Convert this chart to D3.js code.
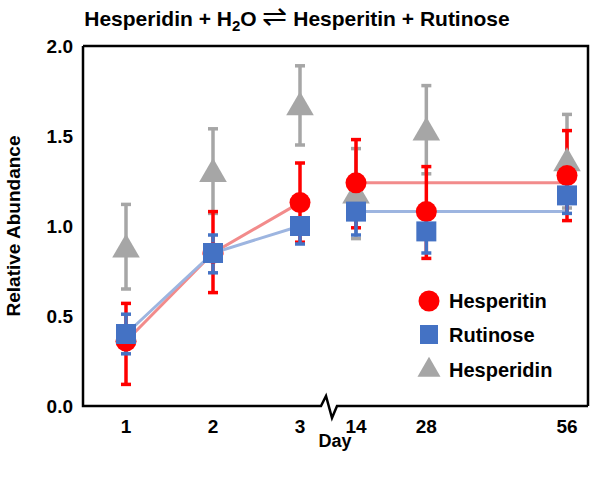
<!DOCTYPE html><html><head><meta charset="utf-8"><script src="https://cdn.jsdelivr.net/npm/d3@7"></script>
<style>body{margin:0;background:#fff}svg{font-family:Arial,"Liberation Sans",sans-serif}</style></head><body><svg id="c" width="595" height="478"></svg><script>
const days=[1,2,3,14,28,56];
const dayLabels=["1","2","3","14","28","56"];
const hesperitin=[0.36,0.85,1.13,1.24,1.08,1.28];
const hesperitinLo=[0.12,0.63,0.91,0.99,0.82,1.03];
const hesperitinHi=[0.57,1.08,1.35,1.48,1.33,1.53];
const rutinose=[0.40,0.85,1.00,1.08,0.97,1.17];
const rutinoseLo=[0.29,0.74,0.90,0.95,0.85,1.07];
const rutinoseHi=[0.51,0.95,1.04,1.19,1.08,1.27];
const hesperidin=[0.88,1.30,1.67,1.18,1.53,1.36];
const hesperidinLo=[0.65,1.07,1.45,0.93,1.29,1.10];
const hesperidinHi=[1.12,1.54,1.89,1.43,1.78,1.62];
const plateau={hesperitin:1.24,rutinose:1.08};
const yTicks=[0,0.5,1.0,1.5,2.0];

const svg=d3.select("#c");
const L=83,R=588,T=46,B=406;
const y=d3.scaleLinear().domain([0,2]).range([B,T]);
const xa=d3.scaleLinear().domain([1,3]).range([126,300]);
const xb=d3.scaleLinear().domain([14,56]).range([356,567]);
const x=d=>d<=3?xa(d):xb(d);

svg.append("path").attr("d",`M${L},${T}H${R}V${B}`).attr("fill","none").attr("stroke","#000").attr("stroke-width",2.5);
svg.append("path").attr("d",`M${L},${T}V${B}H321l5,-10l6,22l5,-12H${R}`).attr("fill","none").attr("stroke","#000").attr("stroke-width",2.5);

svg.append("g").selectAll("text").data(yTicks).join("text").attr("x",L-10).attr("y",d=>y(d)+7)
 .attr("text-anchor","end").attr("font-size",19).attr("font-weight","bold").text(d=>d.toFixed(1));
svg.append("g").selectAll("text").data(days).join("text").attr("x",d=>x(d)).attr("y",433)
 .attr("text-anchor","middle").attr("font-size",19).attr("font-weight","bold").text((d,i)=>dayLabels[i]);
svg.append("text").attr("x",335).attr("y",445).attr("text-anchor","middle").attr("font-size",18).attr("font-weight","bold").attr("dy",2).text("Day");
svg.append("text").attr("transform",`translate(20,${(T+B)/2}) rotate(-90)`).attr("text-anchor","middle").attr("font-size",19).attr("font-weight","bold").text("Relative Abundance");
const t=svg.append("text").attr("x",297).attr("y",26).attr("text-anchor","middle").attr("font-size",21).attr("font-weight","bold");
t.append("tspan").text("Hesperidin + H");t.append("tspan").attr("font-size",15).attr("dy",5).text("2");
t.append("tspan").attr("dy",-5).text("O ");t.append("tspan").attr("font-size",30).attr("font-weight","normal").text("\u21CC");t.append("tspan").text(" Hesperitin + Rutinose");

const line=d3.line().x((d,i)=>x(days[i])).y(d=>y(d));
svg.append("path").attr("d",line(hesperitin.slice(0,3))).attr("fill","none").attr("stroke","#f28b8b").attr("stroke-width",3);
svg.append("path").attr("d",line(rutinose.slice(0,3))).attr("fill","none").attr("stroke","#9db5e0").attr("stroke-width",3);
svg.append("line").attr("x1",x(14)).attr("x2",x(56)).attr("y1",y(plateau.hesperitin)).attr("y2",y(plateau.hesperitin)).attr("stroke","#f28b8b").attr("stroke-width",3);
svg.append("line").attr("x1",x(14)).attr("x2",x(56)).attr("y1",y(plateau.rutinose)).attr("y2",y(plateau.rutinose)).attr("stroke","#9db5e0").attr("stroke-width",3);

function err(lo,hi,col){
  const g=svg.append("g").attr("stroke",col).attr("stroke-width",3.5);
  days.forEach((d,i)=>{const cx=x(d);
    g.append("line").attr("x1",cx).attr("x2",cx).attr("y1",y(lo[i])).attr("y2",y(hi[i]));
    [lo[i],hi[i]].forEach(v=>g.append("line").attr("x1",cx-5).attr("x2",cx+5).attr("y1",y(v)).attr("y2",y(v)));});
}
const tri=d3.symbol().type(d3.symbolTriangle).size(330);
err(hesperidinLo,hesperidinHi,"#a6a6a6");
err(hesperitinLo,hesperitinHi,"#ff0000");
err(rutinoseLo,rutinoseHi,"#4472c4");
svg.append("g").selectAll("path").data(hesperidin).join("path").attr("d",tri).attr("fill","#a6a6a6")
 .attr("transform",(d,i)=>`translate(${x(days[i])},${y(d)+2})`);
svg.append("g").selectAll("circle").data(hesperitin).join("circle").attr("cx",(d,i)=>x(days[i])).attr("cy",d=>y(d)).attr("r",10.5).attr("fill","#ff0000");
svg.append("g").selectAll("rect").data(rutinose).join("rect").attr("x",(d,i)=>x(days[i])-10).attr("y",d=>y(d)-10).attr("width",20).attr("height",20).attr("fill","#4472c4");

const lg=svg.append("g");
lg.append("circle").attr("cx",429).attr("cy",301).attr("r",10.5).attr("fill","#ff0000");
lg.append("rect").attr("x",420).attr("y",325).attr("width",18).attr("height",19).attr("fill","#4472c4");
lg.append("path").attr("d",d3.symbol().type(d3.symbolTriangle).size(230)).attr("transform","translate(429,370)").attr("fill","#a6a6a6");
[["Hesperitin",308],["Rutinose",342],["Hesperidin",377]].forEach(([s,yy])=>lg.append("text").attr("x",449).attr("y",yy).attr("font-size",20).attr("font-weight","bold").text(s));
</script></body></html>
